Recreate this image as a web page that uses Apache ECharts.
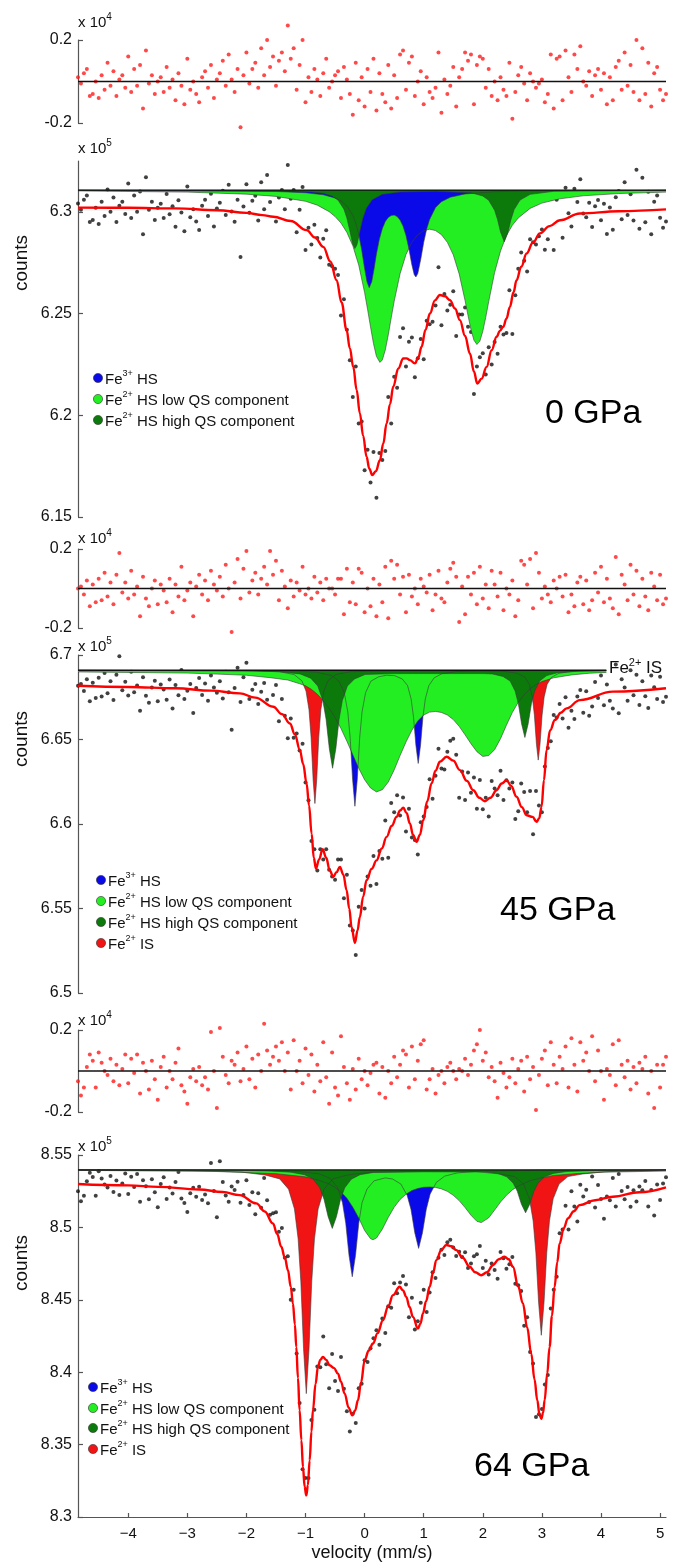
<!DOCTYPE html>
<html>
<head>
<meta charset="utf-8">
<script src="https://cdn.jsdelivr.net/npm/echarts@6/dist/echarts.min.js"></script>
<style>
  html, body { margin: 0; padding: 0; background: #fff; }
  #chart { width: 684px; height: 1563px; }
</style>
</head>
<body>
<div id="chart"></div>
<script>
// velocity channels (mm/s)
const velocity = [
  -4.85,-4.8,-4.75,-4.7,-4.65,-4.6,-4.55,-4.5,-4.45,-4.4,
  -4.35,-4.3,-4.25,-4.2,-4.15,-4.1,-4.05,-4,-3.95,-3.9,
  -3.85,-3.8,-3.75,-3.7,-3.65,-3.6,-3.55,-3.5,-3.45,-3.4,
  -3.35,-3.3,-3.25,-3.2,-3.15,-3.1,-3.05,-3,-2.95,-2.9,
  -2.85,-2.8,-2.75,-2.7,-2.65,-2.6,-2.55,-2.5,-2.45,-2.4,
  -2.35,-2.3,-2.25,-2.2,-2.15,-2.1,-2.05,-2,-1.95,-1.9,
  -1.85,-1.8,-1.75,-1.7,-1.65,-1.6,-1.55,-1.5,-1.45,-1.4,
  -1.35,-1.3,-1.25,-1.2,-1.15,-1.1,-1.05,-1,-0.95,-0.9,
  -0.85,-0.8,-0.75,-0.7,-0.65,-0.6,-0.55,-0.5,-0.45,-0.4,
  -0.35,-0.3,-0.25,-0.2,-0.15,-0.1,-0.05,0,0.05,0.1,
  0.15,0.2,0.25,0.3,0.35,0.4,0.45,0.5,0.55,0.6,
  0.65,0.7,0.75,0.8,0.85,0.9,0.95,1,1.05,1.1,
  1.15,1.2,1.25,1.3,1.35,1.4,1.45,1.5,1.55,1.6,
  1.65,1.7,1.75,1.8,1.85,1.9,1.95,2,2.05,2.1,
  2.15,2.2,2.25,2.3,2.35,2.4,2.45,2.5,2.55,2.6,
  2.65,2.7,2.75,2.8,2.85,2.9,2.95,3,3.05,3.1,
  3.15,3.2,3.25,3.3,3.35,3.4,3.45,3.5,3.55,3.6,
  3.65,3.7,3.75,3.8,3.85,3.9,3.95,4,4.05,4.1,
  4.15,4.2,4.25,4.3,4.35,4.4,4.45,4.5,4.55,4.6,
  4.65,4.7,4.75,4.8,4.85,4.9,4.95,5,5.05,5.1
];

// residuals (x 10^4)
const resid0 = [
  0.02,-0.01,0.04,0.06,-0.07,-0.06,0.00,-0.08,0.03,-0.04,
  0.09,-0.02,0.05,-0.07,0.01,0.03,-0.03,0.12,-0.05,0.06,
  -0.02,0.08,-0.13,0.15,-0.01,0.03,-0.06,0.00,0.02,-0.05,
  0.07,-0.03,0.01,-0.09,0.04,-0.02,-0.11,0.11,-0.04,0.00,
  -0.06,-0.10,0.02,0.05,-0.03,0.08,-0.08,0.01,0.04,0.10,
  -0.02,0.13,0.01,-0.05,0.06,-0.22,0.03,0.14,-0.01,0.06,
  0.09,-0.03,0.16,0.03,0.20,0.07,0.12,-0.02,0.10,0.14,
  0.05,0.27,0.11,0.16,-0.04,0.08,0.20,-0.10,0.02,-0.05,
  0.06,0.01,-0.07,0.04,0.11,-0.03,0.00,0.03,0.05,-0.08,
  0.07,0.01,-0.06,-0.16,0.09,-0.09,0.02,-0.12,0.06,-0.05,
  0.11,-0.14,0.04,-0.06,-0.10,0.08,-0.13,0.03,-0.08,0.13,
  0.15,-0.04,0.09,0.12,-0.07,0.00,0.05,-0.11,0.02,-0.05,
  -0.08,-0.03,0.14,-0.15,0.01,-0.06,-0.02,0.07,-0.12,0.02,
  0.06,0.14,0.10,0.13,-0.11,0.08,0.12,0.11,-0.03,0.06,
  -0.07,0.00,-0.09,0.02,-0.04,-0.07,0.09,-0.18,-0.05,0.03,
  0.07,-0.01,-0.09,0.04,0.00,-0.03,-0.01,0.01,-0.10,-0.06,
  0.13,-0.13,0.11,0.12,-0.09,0.15,0.02,-0.05,0.13,0.06,
  0.17,0.00,-0.02,0.05,-0.07,0.03,0.06,-0.04,0.04,-0.11,
  0.02,-0.09,0.07,0.10,-0.04,0.14,-0.02,0.08,-0.05,0.20,
  -0.09,0.16,-0.06,0.09,-0.12,0.04,0.07,-0.04,-0.09,-0.06
];
const resid45 = [
  0.00,0.01,-0.03,0.04,-0.09,0.02,-0.07,0.05,-0.06,0.08,
  -0.04,0.03,-0.08,0.07,0.18,-0.02,0.03,-0.05,0.09,-0.03,
  0.01,-0.14,0.06,-0.05,-0.09,0.00,0.04,-0.08,0.02,-0.01,
  -0.07,0.05,-0.12,0.02,-0.04,0.11,-0.06,-0.01,0.03,-0.14,
  0.01,0.07,-0.03,0.04,-0.06,0.09,0.02,-0.01,0.06,-0.04,
  0.12,0.00,-0.22,0.03,0.15,-0.05,0.10,0.19,-0.02,0.04,
  0.08,-0.03,0.05,0.11,0.02,0.19,0.07,0.14,-0.06,0.09,
  0.01,-0.10,0.04,-0.04,0.03,-0.01,0.11,-0.03,0.00,-0.05,
  0.06,-0.02,0.03,-0.06,0.05,0.00,0.00,-0.03,0.05,0.05,
  -0.13,0.10,-0.07,0.03,-0.08,0.10,0.08,-0.12,0.00,-0.09,
  0.05,-0.14,0.02,-0.07,0.11,-0.15,0.14,0.05,0.12,-0.03,
  0.06,-0.12,0.07,-0.04,0.00,-0.08,0.05,0.01,-0.02,0.07,
  -0.11,-0.03,0.09,-0.05,-0.07,0.03,0.10,0.13,0.06,-0.17,
  0.01,-0.13,0.06,-0.03,0.08,-0.08,0.11,-0.05,0.02,-0.10,
  0.09,0.02,-0.04,0.08,-0.11,0.00,-0.03,0.04,-0.14,-0.06,
  0.14,0.12,0.02,0.15,-0.10,0.18,0.08,-0.05,0.01,-0.03,
  -0.07,0.04,0.00,0.06,-0.04,0.07,-0.12,-0.03,-0.09,0.03,
  0.06,-0.08,0.04,-0.11,-0.06,0.08,-0.02,0.11,-0.07,0.05,
  -0.05,-0.10,0.16,-0.13,0.07,0.02,-0.06,0.12,-0.03,0.09,
  -0.09,0.05,-0.04,-0.11,0.08,0.01,-0.06,0.07,-0.08,-0.05
];
const resid64 = [
  -0.05,-0.12,-0.08,0.02,0.08,0.05,-0.08,0.09,0.04,0.00,
  -0.02,0.06,-0.05,0.03,-0.07,0.01,0.08,-0.06,0.06,-0.01,
  0.08,-0.11,0.04,0.00,-0.09,0.05,-0.04,-0.14,0.02,0.07,
  -0.08,0.00,-0.04,0.04,0.11,-0.07,-0.10,-0.16,-0.03,0.01,
  -0.05,0.02,-0.07,-0.03,-0.09,0.19,0.00,-0.18,0.21,0.07,
  -0.02,-0.06,0.05,0.03,0.09,-0.05,0.01,0.12,-0.04,0.06,
  -0.08,0.08,0.00,0.23,0.10,0.03,0.07,0.12,0.05,0.14,
  0.00,0.09,-0.09,0.15,0.00,0.05,-0.06,0.11,-0.02,0.08,
  -0.10,0.03,-0.05,0.14,-0.03,-0.16,0.09,-0.08,-0.12,0.17,
  0.02,-0.06,-0.14,0.01,-0.09,0.06,-0.04,0.00,-0.07,-0.01,
  0.03,0.04,-0.11,0.02,-0.13,0.00,-0.06,0.07,-0.03,0.03,
  0.10,0.08,-0.08,0.12,-0.04,0.05,0.13,0.15,-0.09,-0.04,
  0.01,-0.11,-0.02,0.00,-0.06,0.02,0.04,0.00,-0.04,0.01,
  0.00,0.06,-0.02,0.03,0.10,0.13,0.20,0.05,0.09,-0.03,
  0.02,-0.05,-0.13,0.04,-0.01,-0.08,-0.03,0.06,-0.06,0.01,
  0.05,-0.10,0.07,-0.04,0.02,-0.19,-0.02,0.06,0.10,-0.07,
  0.14,0.03,-0.06,0.07,0.01,0.12,-0.08,0.16,0.03,-0.10,
  0.14,0.05,0.09,0.00,0.17,-0.05,0.10,0.00,-0.14,0.01,
  -0.02,0.13,-0.07,0.15,0.03,-0.03,0.05,-0.09,0.02,-0.06,
  0.04,0.01,0.07,-0.11,0.00,-0.18,0.03,-0.08,0.03,0.07
];

// measured counts (x 10^5)
const counts0 = [
  6.3041,6.3010,6.3060,6.3080,6.2950,6.2960,6.3020,6.2940,6.3050,6.2980,
  6.3110,6.3000,6.3070,6.2950,6.3030,6.3050,6.2990,6.3140,6.2970,6.3080,
  6.3000,6.3100,6.2890,6.3170,6.3010,6.3050,6.2960,6.3020,6.3040,6.2970,
  6.3088,6.2988,6.3028,6.2927,6.3057,6.2997,6.2905,6.3125,6.2974,6.3013,
  6.2952,6.2911,6.3030,6.3059,6.2980,6.3089,6.2928,6.3016,6.3045,6.3104,
  6.2984,6.3133,6.3002,6.2951,6.3060,6.2778,6.3026,6.3136,6.2995,6.3054,
  6.3079,6.2958,6.3145,6.3013,6.3181,6.3049,6.3096,6.2953,6.3070,6.3107,
  6.3013,6.3230,6.3065,6.3108,6.2900,6.3010,6.3122,6.2812,6.2922,6.2840,
  6.2937,6.2872,6.2776,6.2868,6.2910,6.2740,6.2733,6.2720,6.2690,6.2490,
  6.2570,6.2420,6.2270,6.2090,6.2240,6.1960,6.1970,6.1730,6.1830,6.1670,
  6.1820,6.1595,6.1815,6.1780,6.1825,6.2090,6.1960,6.2190,6.2135,6.2385,
  6.2428,6.2240,6.2362,6.2382,6.2187,6.2280,6.2375,6.2275,6.2465,6.2448,
  6.2460,6.2540,6.2728,6.2442,6.2596,6.2515,6.2543,6.2610,6.2390,6.2495,
  6.2495,6.2530,6.2435,6.2410,6.2105,6.2240,6.2285,6.2305,6.2200,6.2335,
  6.2250,6.2360,6.2302,6.2435,6.2397,6.2405,6.2615,6.2400,6.2590,6.2720,
  6.2800,6.2760,6.2707,6.2865,6.2850,6.2840,6.2880,6.2913,6.2814,6.2865,
  6.3064,6.2813,6.3060,6.3078,6.2873,6.3118,6.2993,6.2928,6.3113,6.3048,
  6.3160,6.2992,6.2973,6.3045,6.2926,6.3027,6.3058,6.2959,6.3040,6.2891,
  6.3021,6.2912,6.3072,6.3103,6.2964,6.3145,6.2985,6.3086,6.2957,6.3207,
  6.2917,6.3168,6.2949,6.3099,6.2890,6.3050,6.3081,6.2971,6.2922,6.2952
];
const counts45 = [
  6.6818,6.6828,6.6787,6.6857,6.6726,6.6836,6.6746,6.6865,6.6755,6.6894,
  6.6774,6.6844,6.6733,6.6883,6.6992,6.6792,6.6842,6.6761,6.6901,6.6780,
  6.6820,6.6670,6.6869,6.6759,6.6718,6.6808,6.6847,6.6727,6.6826,6.6796,
  6.6735,6.6855,6.6684,6.6823,6.6762,6.6911,6.6740,6.6789,6.6828,6.6657,
  6.6805,6.6864,6.6763,6.6832,6.6730,6.6879,6.6807,6.6776,6.6844,6.6743,
  6.6901,6.6779,6.6557,6.6805,6.6924,6.6722,6.6868,6.6954,6.6740,6.6794,
  6.6828,6.6710,6.6782,6.6834,6.6735,6.6895,6.6764,6.6822,6.6608,6.6740,
  6.6640,6.6508,6.6625,6.6510,6.6535,6.6435,6.6475,6.6245,6.6140,6.5900,
  6.5850,6.5725,6.5850,6.5790,6.5850,6.5730,6.5690,6.5670,6.5790,6.5790,
  6.5560,6.5700,6.5400,6.5370,6.5225,6.5510,6.5610,6.5500,6.5690,6.5635,
  6.5810,6.5645,6.5840,6.5795,6.6020,6.5800,6.6125,6.6070,6.6170,6.6050,
  6.6157,6.5955,6.6090,6.5920,6.5905,6.5820,6.6010,6.6045,6.6100,6.6265,
  6.6150,6.6285,6.6445,6.6328,6.6323,6.6428,6.6493,6.6505,6.6410,6.6155,
  6.6310,6.6142,6.6305,6.6185,6.6275,6.6090,6.6260,6.6088,6.6155,6.6045,
  6.6255,6.6210,6.6170,6.6315,6.6142,6.6259,6.6210,6.6245,6.6030,6.6075,
  6.6240,6.6190,6.6070,6.6195,6.5940,6.6195,6.6110,6.6070,6.6340,6.6450,
  6.6490,6.6645,6.6630,6.6710,6.6625,6.6750,6.6570,6.6670,6.6622,6.6755,
  6.6793,6.6659,6.6785,6.6640,6.6695,6.6840,6.6745,6.6879,6.6702,6.6826,
  6.6730,6.6683,6.6944,6.6655,6.6857,6.6808,6.6729,6.6910,6.6762,6.6883,
  6.6704,6.6845,6.6756,6.6687,6.6878,6.6809,6.6740,6.6871,6.6722,6.6753
];
const counts64 = [
  8.5250,8.5180,8.5219,8.5319,8.5378,8.5348,8.5218,8.5387,8.5337,8.5296,
  8.5276,8.5355,8.5245,8.5324,8.5224,8.5303,8.5372,8.5231,8.5350,8.5279,
  8.5368,8.5177,8.5326,8.5285,8.5194,8.5333,8.5242,8.5140,8.5299,8.5347,
  8.5196,8.5275,8.5234,8.5313,8.5382,8.5200,8.5168,8.5107,8.5235,8.5274,
  8.5212,8.5280,8.5189,8.5227,8.5166,8.5444,8.5252,8.5070,8.5457,8.5313,
  8.5220,8.5177,8.5283,8.5259,8.5315,8.5170,8.5223,8.5325,8.5155,8.5243,
  8.5090,8.5235,8.5135,8.5342,8.5187,8.5088,8.5097,8.5105,8.4970,8.4995,
  8.4790,8.4800,8.4500,8.4570,8.4130,8.3787,8.3330,8.3270,8.3270,8.3670,
  8.3740,8.4040,8.4035,8.4246,8.4055,8.3890,8.4125,8.3940,8.3870,8.4105,
  8.3885,8.3730,8.3590,8.3713,8.3650,8.3890,8.3920,8.4082,8.4070,8.4165,
  8.4235,8.4290,8.4190,8.4370,8.4270,8.4455,8.4445,8.4615,8.4545,8.4620,
  8.4665,8.4605,8.4380,8.4515,8.4295,8.4352,8.4480,8.4570,8.4415,8.4550,
  8.4690,8.4650,8.4790,8.4845,8.4810,8.4898,8.4915,8.4862,8.4803,8.4832,
  8.4795,8.4828,8.4720,8.4750,8.4800,8.4815,8.4872,8.4720,8.4770,8.4675,
  8.4750,8.4705,8.4645,8.4830,8.4787,8.4715,8.4745,8.4795,8.4610,8.4600,
  8.4560,8.4320,8.4380,8.4140,8.4060,8.3690,8.3710,8.3745,8.3915,8.3980,
  8.4440,8.4570,8.4660,8.4959,8.4985,8.5150,8.4985,8.5250,8.5145,8.5040,
  8.5295,8.5213,8.5260,8.5176,8.5352,8.5137,8.5292,8.5196,8.5060,8.5214,
  8.5188,8.5342,8.5145,8.5368,8.5252,8.5195,8.5279,8.5142,8.5256,8.5179,
  8.5283,8.5257,8.5321,8.5144,8.5258,8.5082,8.5296,8.5190,8.5303,8.5347
];

// fitted envelopes [velocity, counts]
const fit0 = [[-4.85,6.3021],[-4.0,6.3020],[-3.2,6.3017],[-2.5,6.3008],[-2.0,6.2995],[-1.73,6.2984],[-1.546,6.2976],[-1.25,6.2955],[-0.982,6.2910],[-0.84,6.2874],[-0.70,6.2828],[-0.58,6.2756],[-0.474,6.2664],[-0.39,6.2555],[-0.305,6.2419],[-0.25,6.2330],[-0.192,6.2238],[-0.135,6.2125],[-0.08,6.2009],[-0.025,6.1900],[0.033,6.1796],[0.08,6.1737],[0.129,6.1706],[0.19,6.1725],[0.259,6.1779],[0.315,6.1860],[0.372,6.1960],[0.43,6.2055],[0.484,6.2140],[0.57,6.2230],[0.654,6.2279],[0.71,6.2280],[0.766,6.2271],[0.851,6.2255],[0.91,6.2285],[0.964,6.2337],[1.03,6.2420],[1.105,6.2500],[1.19,6.2565],[1.274,6.2591],[1.36,6.2585],[1.443,6.2566],[1.53,6.2525],[1.612,6.2468],[1.70,6.2390],[1.782,6.2304],[1.85,6.2215],[1.906,6.2156],[1.98,6.2180],[2.064,6.2238],[2.15,6.2320],[2.233,6.2386],[2.29,6.2415],[2.346,6.2435],[2.40,6.2475],[2.459,6.2533],[2.52,6.2605],[2.571,6.2664],[2.65,6.2730],[2.741,6.2795],[2.85,6.2850],[2.966,6.2894],[3.13,6.2930],[3.305,6.2959],[3.643,6.2992],[4.3,6.3003],[5.1,6.3012]];
const fit45 = [[-4.85,6.6818],[-4.0,6.6811],[-3.2,6.6803],[-2.6,6.6789],[-2.11,6.6773],[-1.85,6.6748],[-1.546,6.6694],[-1.40,6.6650],[-1.264,6.6595],[-1.18,6.6530],[-1.095,6.6437],[-1.04,6.6355],[-0.982,6.6240],[-0.94,6.6110],[-0.897,6.5943],[-0.86,6.5800],[-0.824,6.5736],[-0.77,6.5790],[-0.711,6.5851],[-0.65,6.5800],[-0.59,6.5725],[-0.531,6.5687],[-0.475,6.5715],[-0.418,6.5746],[-0.36,6.5700],[-0.305,6.5608],[-0.26,6.5500],[-0.221,6.5391],[-0.164,6.5296],[-0.12,6.5370],[-0.08,6.5450],[-0.025,6.5570],[0.033,6.5667],[0.12,6.5735],[0.202,6.5785],[0.29,6.5855],[0.372,6.5924],[0.46,6.5990],[0.541,6.6042],[0.60,6.6080],[0.654,6.6097],[0.71,6.6065],[0.766,6.6003],[0.82,6.5935],[0.879,6.5894],[0.935,6.5935],[0.992,6.6022],[1.06,6.6135],[1.133,6.6240],[1.20,6.6315],[1.274,6.6368],[1.387,6.6398],[1.50,6.6375],[1.612,6.6319],[1.73,6.6255],[1.838,6.6200],[1.94,6.6155],[2.035,6.6135],[2.13,6.6155],[2.233,6.6200],[2.32,6.6240],[2.402,6.6259],[2.48,6.6225],[2.571,6.6161],[2.66,6.6100],[2.741,6.6052],[2.842,6.6042],[2.91,6.6013],[2.955,6.6035],[2.994,6.6101],[3.035,6.6260],[3.079,6.6437],[3.14,6.6555],[3.22,6.6615],[3.32,6.6658],[3.417,6.6684],[3.643,6.6733],[4.2,6.6783],[5.1,6.6803]];
const fit64 = [[-4.85,8.5300],[-4.0,8.5290],[-3.5,8.5280],[-2.8,8.5262],[-2.4,8.5244],[-2.115,8.5223],[-1.833,8.5166],[-1.69,8.5110],[-1.551,8.5027],[-1.48,8.4955],[-1.41,8.4866],[-1.35,8.4790],[-1.297,8.4705],[-1.25,8.4590],[-1.213,8.4474],[-1.18,8.4330],[-1.156,8.4174],[-1.128,8.3960],[-1.10,8.3737],[-1.07,8.3530],[-1.043,8.3345],[-1.015,8.3210],[-0.987,8.3149],[-0.96,8.3220],[-0.93,8.3391],[-0.90,8.3590],[-0.874,8.3737],[-0.83,8.3920],[-0.79,8.4036],[-0.75,8.4085],[-0.705,8.4106],[-0.65,8.4085],[-0.592,8.4048],[-0.52,8.4030],[-0.451,8.3990],[-0.40,8.3935],[-0.338,8.3852],[-0.27,8.3755],[-0.209,8.3702],[-0.16,8.3735],[-0.113,8.3806],[-0.06,8.3930],[0.0,8.4082],[0.07,8.4150],[0.141,8.4198],[0.22,8.4270],[0.31,8.4359],[0.40,8.4455],[0.48,8.4532],[0.592,8.4590],[0.65,8.4565],[0.705,8.4520],[0.76,8.4450],[0.818,8.4382],[0.902,8.4301],[0.945,8.4335],[0.987,8.4405],[1.04,8.4490],[1.10,8.4590],[1.16,8.4690],[1.213,8.4774],[1.30,8.4845],[1.382,8.4878],[1.47,8.4870],[1.551,8.4843],[1.66,8.4790],[1.777,8.4728],[1.874,8.4690],[1.974,8.4670],[2.07,8.4690],[2.171,8.4739],[2.27,8.4780],[2.369,8.4797],[2.44,8.4780],[2.51,8.4728],[2.60,8.4590],[2.679,8.4474],[2.75,8.4310],[2.82,8.4128],[2.875,8.3950],[2.922,8.3806],[2.96,8.3705],[2.99,8.3679],[3.02,8.3720],[3.046,8.3806],[3.09,8.3990],[3.13,8.4174],[3.17,8.4390],[3.215,8.4590],[3.26,8.4760],[3.30,8.4889],[3.37,8.4995],[3.44,8.5062],[3.54,8.5112],[3.638,8.5154],[3.9,8.5188],[4.2,8.5212],[4.65,8.5243],[5.1,8.5277]];

// sub-spectra, 0 GPa
const fe2Low0 = [[-4.85,6.3103],[-3.0,6.3097],[-2.0,6.3087],[-1.5,6.3076],[-1.0,6.3052],[-0.8,6.3033],[-0.6,6.3001],[-0.5,6.2977],[-0.4,6.2945],[-0.3,6.2899],[-0.2,6.2834],[-0.1,6.2739],[0.0,6.2603],[0.05,6.2521],[0.1,6.2435],[0.15,6.2353],[0.2,6.2290],[0.259,6.2260],[0.3,6.2272],[0.35,6.2321],[0.4,6.2395],[0.45,6.2479],[0.5,6.2560],[0.6,6.2696],[0.7,6.2790],[0.8,6.2851],[0.9,6.2888],[1.0,6.2907],[1.1,6.2915],[1.2,6.2908],[1.3,6.2888],[1.4,6.2850],[1.5,6.2789],[1.6,6.2695],[1.7,6.2564],[1.75,6.2490],[1.8,6.2421],[1.85,6.2369],[1.9,6.2348],[1.95,6.2364],[2.0,6.2413],[2.05,6.2482],[2.1,6.2559],[2.2,6.2702],[2.3,6.2808],[2.4,6.2884],[2.5,6.2934],[2.6,6.2970],[2.8,6.3017],[3.0,6.3043],[3.3,6.3064],[3.7,6.3079],[4.3,6.3090],[5.1,6.3097]];
const fe3HS0 = [[-4.85,6.3106],[-1.5,6.3100],[-1.0,6.3094],[-0.7,6.3084],[-0.5,6.3068],[-0.4,6.3054],[-0.3,6.3029],[-0.2,6.2983],[-0.15,6.2945],[-0.1,6.2890],[-0.05,6.2814],[0.0,6.2721],[0.04,6.2656],[0.078,6.2627],[0.12,6.2656],[0.16,6.2720],[0.2,6.2793],[0.25,6.2866],[0.3,6.2918],[0.35,6.2953],[0.4,6.2972],[0.45,6.2982],[0.5,6.2984],[0.55,6.2977],[0.6,6.2960],[0.65,6.2930],[0.7,6.2884],[0.75,6.2818],[0.8,6.2739],[0.84,6.2691],[0.868,6.2680],[0.9,6.2697],[0.95,6.2767],[1.0,6.2850],[1.05,6.2916],[1.1,6.2963],[1.2,6.3021],[1.3,6.3050],[1.45,6.3072],[1.7,6.3088],[2.2,6.3099],[3.0,6.3104],[5.1,6.3106]];
const fe2High0 = [[-4.85,6.3106],[-2.0,6.3105],[-1.2,6.3102],[-0.9,6.3098],[-0.7,6.3091],[-0.55,6.3078],[-0.45,6.3058],[-0.35,6.3013],[-0.3,6.2970],[-0.25,6.2907],[-0.2,6.2841],[-0.164,6.2820],[-0.13,6.2838],[-0.08,6.2905],[-0.03,6.2968],[0.03,6.3018],[0.13,6.3060],[0.3,6.3086],[0.6,6.3098],[1.2,6.3101],[1.8,6.3094],[2.0,6.3078],[2.1,6.3057],[2.2,6.3008],[2.25,6.2962],[2.3,6.2901],[2.363,6.2853],[2.42,6.2894],[2.47,6.2956],[2.53,6.3011],[2.63,6.3058],[2.8,6.3086],[3.2,6.3101],[5.1,6.3106]];

// sub-spectra, 45 GPa
const fe2IS45 = [[-4.85,6.6909],[-1.841,6.6907],[-1.441,6.6901],[-1.191,6.6884],[-1.061,6.6847],[-0.991,6.6785],[-0.941,6.6676],[-0.906,6.6515],[-0.871,6.6260],[-0.841,6.6121],[-0.811,6.6260],[-0.776,6.6515],[-0.741,6.6676],[-0.691,6.6785],[-0.621,6.6847],[-0.491,6.6884],[-0.241,6.6901],[0.5,6.6907],[1.938,6.6907],[2.338,6.6904],[2.588,6.6892],[2.718,6.6867],[2.788,6.6826],[2.838,6.6752],[2.873,6.6644],[2.908,6.6472],[2.938,6.6378],[2.968,6.6472],[3.003,6.6644],[3.038,6.6752],[3.088,6.6826],[3.158,6.6867],[3.288,6.6892],[3.538,6.6904],[4.09,6.6908]];
const fe3HS45 = [[-4.85,6.6909],[-1.164,6.6905],[-0.814,6.6898],[-0.564,6.6879],[-0.434,6.6845],[-0.344,6.6777],[-0.284,6.6662],[-0.244,6.6507],[-0.204,6.6266],[-0.164,6.6105],[-0.124,6.6266],[-0.084,6.6507],[-0.044,6.6662],[0.016,6.6777],[0.106,6.6845],[0.236,6.6871],[0.37,6.6880],[0.507,6.6878],[0.637,6.6858],[0.727,6.6819],[0.787,6.6740],[0.827,6.6634],[0.867,6.6468],[0.907,6.6358],[0.947,6.6468],[0.987,6.6634],[1.027,6.6740],[1.087,6.6819],[1.177,6.6865],[1.307,6.6889],[1.557,6.6902],[1.907,6.6906],[4.09,6.6909]];
const fe2Low45 = [[-4.85,6.6900],[-3.0,6.6893],[-2.5,6.6887],[-2.0,6.6880],[-1.6,6.6866],[-1.3,6.6852],[-1.1,6.6830],[-1.0,6.6818],[-0.9,6.6797],[-0.8,6.6768],[-0.7,6.6730],[-0.6,6.6685],[-0.5,6.6630],[-0.4,6.6565],[-0.3,6.6490],[-0.2,6.6410],[-0.1,6.6330],[0.0,6.6262],[0.1,6.6213],[0.2,6.6190],[0.3,6.6203],[0.4,6.6248],[0.5,6.6320],[0.6,6.6405],[0.7,6.6485],[0.8,6.6555],[0.9,6.6610],[1.0,6.6645],[1.1,6.6662],[1.2,6.6666],[1.3,6.6660],[1.4,6.6645],[1.5,6.6618],[1.6,6.6578],[1.7,6.6528],[1.8,6.6475],[1.9,6.6428],[2.0,6.6400],[2.1,6.6405],[2.2,6.6440],[2.3,6.6505],[2.4,6.6585],[2.5,6.6660],[2.6,6.6720],[2.7,6.6765],[2.8,6.6800],[2.9,6.6825],[3.0,6.6843],[3.2,6.6865],[3.5,6.6882],[3.8,6.6892],[4.09,6.6897]];
const fe2High45 = [[-4.85,6.6909],[-2.042,6.6907],[-1.442,6.6901],[-1.092,6.6888],[-0.912,6.6863],[-0.792,6.6816],[-0.707,6.6731],[-0.652,6.6620],[-0.597,6.6446],[-0.542,6.6330],[-0.487,6.6446],[-0.432,6.6620],[-0.377,6.6731],[-0.292,6.6816],[-0.172,6.6858],[0.008,6.6885],[0.5,6.6890],[2.0,6.6890],[2.162,6.6888],[2.342,6.6873],[2.462,6.6846],[2.547,6.6787],[2.602,6.6711],[2.657,6.6592],[2.712,6.6512],[2.767,6.6592],[2.822,6.6711],[2.877,6.6787],[2.962,6.6846],[3.082,6.6878],[3.262,6.6895],[3.612,6.6904],[4.09,6.6908]];

// sub-spectra, 64 GPa
const fe2IS64 = [[-4.85,8.5396],[-2.987,8.5394],[-2.087,8.5382],[-1.687,8.5362],[-1.437,8.5335],[-1.287,8.5264],[-1.187,8.5127],[-1.125,8.4921],[-1.079,8.4624],[-1.033,8.4161],[-0.987,8.3852],[-0.941,8.4161],[-0.895,8.4624],[-0.849,8.4921],[-0.787,8.5127],[-0.687,8.5264],[-0.537,8.5335],[-0.287,8.5362],[0.113,8.5382],[1.0,8.5386],[1.89,8.5385],[2.29,8.5369],[2.54,8.5351],[2.69,8.5299],[2.79,8.5197],[2.852,8.5045],[2.898,8.4826],[2.944,8.4483],[2.99,8.4255],[3.036,8.4483],[3.082,8.4826],[3.128,8.5045],[3.19,8.5197],[3.29,8.5299],[3.44,8.5351],[3.69,8.5369],[4.09,8.5385],[5.1,8.5395]];
const fe3HS64 = [[-4.85,8.5396],[-2.0,8.5394],[-1.109,8.5386],[-0.759,8.5369],[-0.579,8.5337],[-0.459,8.5277],[-0.374,8.5170],[-0.319,8.5028],[-0.264,8.4807],[-0.209,8.4659],[-0.154,8.4807],[-0.099,8.5028],[-0.044,8.5170],[0.041,8.5265],[0.161,8.5322],[0.35,8.5342],[0.474,8.5334],[0.614,8.5299],[0.719,8.5222],[0.784,8.5126],[0.849,8.4963],[0.914,8.4855],[0.979,8.4963],[1.044,8.5126],[1.109,8.5230],[1.214,8.5311],[1.354,8.5354],[1.564,8.5376],[1.914,8.5388],[3.0,8.5395],[5.1,8.5396]];
const fe2Low64 = [[-4.85,8.5394],[-2.5,8.5386],[-1.5,8.5371],[-1.0,8.5349],[-0.8,8.5329],[-0.6,8.5300],[-0.5,8.5276],[-0.4,8.5244],[-0.3,8.5201],[-0.2,8.5140],[-0.1,8.5065],[0.0,8.4979],[0.1,8.4922],[0.141,8.4915],[0.2,8.4926],[0.3,8.4988],[0.4,8.5069],[0.5,8.5139],[0.6,8.5193],[0.7,8.5229],[0.8,8.5254],[0.9,8.5269],[1.0,8.5277],[1.1,8.5279],[1.2,8.5276],[1.3,8.5266],[1.4,8.5249],[1.5,8.5222],[1.6,8.5185],[1.7,8.5137],[1.8,8.5084],[1.9,8.5042],[1.974,8.5033],[2.0,8.5034],[2.1,8.5066],[2.2,8.5120],[2.3,8.5175],[2.4,8.5222],[2.5,8.5259],[2.6,8.5286],[2.8,8.5323],[3.0,8.5343],[3.2,8.5359],[3.6,8.5372],[4.0,8.5381],[5.1,8.5389]];
const fe2High64 = [[-4.85,8.5396],[-2.347,8.5395],[-1.647,8.5391],[-1.247,8.5381],[-1.017,8.5364],[-0.867,8.5332],[-0.757,8.5273],[-0.687,8.5195],[-0.617,8.5074],[-0.547,8.4993],[-0.477,8.5074],[-0.407,8.5195],[-0.337,8.5273],[-0.227,8.5332],[-0.077,8.5364],[0.153,8.5380],[1.0,8.5384],[2.024,8.5384],[2.254,8.5373],[2.404,8.5349],[2.514,8.5306],[2.584,8.5249],[2.654,8.5160],[2.724,8.5101],[2.794,8.5160],[2.864,8.5249],[2.934,8.5306],[3.044,8.5349],[3.194,8.5373],[3.424,8.5386],[3.824,8.5392],[5.1,8.5396]];

// background levels
const baseline0 = [[-4.85,6.3107],[5.1,6.3107]];
const baseline45 = [[-4.85,6.691],[4.09,6.691]];
const baseline64 = [[-4.85,8.5397],[5.1,8.5397]];
const zeroLine = [[-4.85,0],[5.1,0]];

// tick labels
const velTicks = [-4,-3,-2,-1,0,1,2,3,4,5];
const residTicks = [-0.2,0.2];
const ticks0 = [6.15,6.2,6.25,6.3];
const ticks45 = [6.5,6.55,6.6,6.65,6.7];
const ticks64 = [8.3,8.35,8.4,8.45,8.5,8.55];

const FONT = "'Liberation Sans', Arial, Helvetica, sans-serif";
const LGREEN = '#22ee22', DGREEN = '#0b7a0b', BLUE = '#0a0ae8', RED = '#f01414';

const chart = echarts.init(document.getElementById('chart'));

const grids = [
  { top: 40, height: 83 },
  { top: 161, height: 356 },
  { top: 549, height: 79 },
  { top: 655, height: 338 },
  { top: 1030, height: 82 },
  { top: 1155, height: 362 }
].map(g => Object.assign({ left: 78, right: 18, containLabel: false }, g));

function xAx(i, show) {
  const ax = { type: 'value', gridIndex: i, min: -4.85, max: 5.1, show: show, splitLine: { show: false } };
  if (show) {
    Object.assign(ax, {
      axisLine: { show: true, onZero: false, lineStyle: { color: '#555', width: 1.2 } },
      axisTick: { show: true, inside: true, length: 4, customValues: velTicks, lineStyle: { color: '#555', width: 1.2 } },
      axisLabel: { customValues: velTicks, fontSize: 15, color: '#111', fontFamily: FONT, margin: 9,
        formatter: v => String(v).replace('-', '\u2212') },
      name: 'velocity (mm/s)', nameLocation: 'middle', nameGap: 27,
      nameTextStyle: { fontSize: 18, color: '#111', fontFamily: FONT }
    });
  }
  return ax;
}
function yAx(i, min, max, ticks) {
  return {
    type: 'value', gridIndex: i, min: min, max: max,
    splitLine: { show: false },
    axisLine: { show: true, onZero: false, lineStyle: { color: '#555', width: 1.2 } },
    axisTick: { show: true, inside: true, length: 5, customValues: ticks, lineStyle: { color: '#555', width: 1.2 } },
    axisLabel: { customValues: ticks, fontSize: 16, color: '#111', fontFamily: FONT, margin: 6 }
  };
}

function pts(ys) { return ys.map((y, k) => [velocity[k], y]); }

function fill(i, data, color, base) {
  return { type: 'line', xAxisIndex: i, yAxisIndex: i, data: data, smooth: false,
    symbol: 'none', silent: true,
    lineStyle: { color: '#3a3a3a', width: 0.6 },
    areaStyle: { color: color, opacity: 1, origin: base } };
}
function flat(i, data) {
  return { type: 'line', xAxisIndex: i, yAxisIndex: i, data: data, symbol: 'none', silent: true,
    lineStyle: { color: '#111', width: 1.4 } };
}
function fitLine(i, data) {
  return { type: 'line', xAxisIndex: i, yAxisIndex: i, data: data, smooth: 0.4, smoothMonotone: 'x',
    symbol: 'none', silent: true, lineStyle: { color: '#ff0000', width: 2.4 } };
}
function dots(i, data, color) {
  return { type: 'scatter', xAxisIndex: i, yAxisIndex: i, data: data, symbolSize: 4, clip: false,
    silent: true, itemStyle: { color: color } };
}

const series = [
  flat(0, zeroLine), dots(0, pts(resid0), '#ff1a1a'),
  fill(1, fe2Low0, LGREEN, 6.3107), fill(1, fe3HS0, BLUE, 6.3107), fill(1, fe2High0, DGREEN, 6.3107),
  flat(1, baseline0), fitLine(1, fit0), dots(1, pts(counts0), '#111'),
  flat(2, zeroLine), dots(2, pts(resid45), '#ff1a1a'),
  fill(3, fe2IS45, RED, 6.691), fill(3, fe3HS45, BLUE, 6.691), fill(3, fe2Low45, LGREEN, 6.691), fill(3, fe2High45, DGREEN, 6.691),
  flat(3, baseline45), fitLine(3, fit45), dots(3, pts(counts45), '#111'),
  flat(4, zeroLine), dots(4, pts(resid64), '#ff1a1a'),
  fill(5, fe2IS64, RED, 8.5397), fill(5, fe3HS64, BLUE, 8.5397), fill(5, fe2Low64, LGREEN, 8.5397), fill(5, fe2High64, DGREEN, 8.5397),
  flat(5, baseline64), fitLine(5, fit64), dots(5, pts(counts64), '#111')
];

const sup = {
  n: { fontSize: 15, fontFamily: FONT, fill: '#111', lineHeight: 18, verticalAlign: 'bottom' },
  s: { fontSize: 9, fontFamily: FONT, fill: '#111', lineHeight: 10, verticalAlign: 'top' }
};
const supBig = {
  n: { fontSize: 15, fontFamily: FONT, fill: '#111', lineHeight: 18, verticalAlign: 'bottom' },
  s: { fontSize: 10, fontFamily: FONT, fill: '#111', lineHeight: 11, verticalAlign: 'top' }
};
const supLabel = {
  n: { fontSize: 17, fontFamily: FONT, fill: '#111', lineHeight: 20, verticalAlign: 'bottom' },
  s: { fontSize: 11, fontFamily: FONT, fill: '#111', lineHeight: 12, verticalAlign: 'top' }
};

const legendRows = [
  { c: BLUE, t: '{n|Fe}{s|3+}{n| HS}' },
  { c: LGREEN, t: '{n|Fe}{s|2+}{n| HS low QS component}' },
  { c: DGREEN, t: '{n|Fe}{s|2+}{n| HS high QS component}' },
  { c: RED, t: '{n|Fe}{s|2+}{n| IS}' }
];

function legend(x, ys, n) {
  const out = [];
  for (let k = 0; k < n; k++) {
    out.push({ type: 'circle', shape: { cx: x, cy: ys[k], r: 4.6 },
      style: { fill: legendRows[k].c, stroke: '#333', lineWidth: 0.6 }, silent: true });
    out.push({ type: 'text', x: x + 7, y: ys[k],
      style: { text: legendRows[k].t, rich: sup, align: 'left', verticalAlign: 'middle' }, silent: true });
  }
  return out;
}
function exponent(y, e) {
  return { type: 'text', x: 78, y: y,
    style: { text: '{n|x 10}{s|' + e + '}', rich: supBig, align: 'left', verticalAlign: 'middle' }, silent: true };
}
function countsLabel(y) {
  return { type: 'text', x: 22, y: y, rotation: Math.PI / 2,
    style: { text: 'counts', fontSize: 19, fontFamily: FONT, fill: '#111', align: 'center', verticalAlign: 'middle' }, silent: true };
}
function pressure(x, y, t) {
  return { type: 'text', x: x, y: y,
    style: { text: t, fontSize: 34, fontFamily: FONT, fill: '#000', align: 'left', verticalAlign: 'middle' }, silent: true };
}

const graphic = [
  exponent(21, 4), exponent(147, 5), exponent(537, 4), exponent(645, 5), exponent(1019, 4), exponent(1145, 5),
  countsLabel(263), countsLabel(739), countsLabel(1263),
  pressure(545, 414, '0 GPa'), pressure(500, 911, '45 GPa'), pressure(474, 1467, '64 GPa'),
  { type: 'text', x: 609, y: 667, style: { text: '{n|Fe}{s|2+}{n| IS}', rich: supLabel, align: 'left', verticalAlign: 'middle' }, silent: true }
].concat(
  legend(98, [378, 399, 420], 3),
  legend(101, [880, 901, 922, 943], 4),
  legend(93, [1387, 1408, 1428, 1449], 4)
);

chart.setOption({
  animation: false,
  backgroundColor: '#fff',
  grid: grids,
  xAxis: [xAx(0, false), xAx(1, false), xAx(2, false), xAx(3, false), xAx(4, false), xAx(5, true)],
  yAxis: [
    yAx(0, -0.2, 0.2, residTicks), yAx(1, 6.15, 6.325, ticks0),
    yAx(2, -0.2, 0.2, residTicks), yAx(3, 6.5, 6.7, ticks45),
    yAx(4, -0.2, 0.2, residTicks), yAx(5, 8.3, 8.55, ticks64)
  ],
  series: series,
  graphic: graphic
});
</script>
</body>
</html>
